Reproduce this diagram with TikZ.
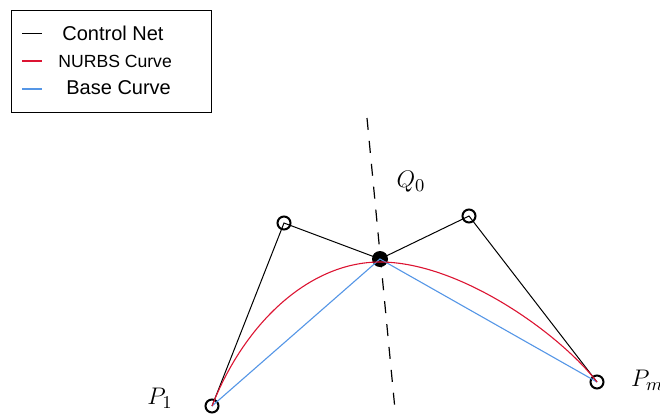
\documentclass[tikz,border=0pt]{standalone}
\usepackage{fontspec}
\newfontfamily\legendfont{Liberation Sans}
\usetikzlibrary{positioning}

\definecolor{nurbsred}{RGB}{220,20,50}
\definecolor{baseblue}{RGB}{85,150,230}

\begin{document}
\begin{tikzpicture}[
    x=0.5pt, y=-0.5pt,
    ctrlpt/.style={circle, draw, line width=1pt, minimum size=6.5pt, inner sep=0pt},
    midpt/.style={circle, fill, minimum size=8pt, inner sep=0pt},
    net/.style={line width=0.5pt},
    nurbs/.style={nurbsred, line width=0.55pt},
    base/.style={baseblue, line width=0.55pt},
    axis/.style={line width=0.6pt, dash pattern=on 6pt off 5.5pt},
    lbl/.style={font=\fontsize{13}{15}\selectfont},
    legtext/.style={font=\legendfont\fontsize{10}{12}\selectfont, inner sep=0pt}
  ]
    \useasboundingbox (0,0) rectangle (660,414);

    % legend
    \node[draw, line width=0.5pt, minimum width=100pt, minimum height=51pt, inner sep=0pt] (legend) at (111,61) {};
    \coordinate (k1a) at (22,33);  \coordinate (k1b) at (42,33);
    \coordinate (k2a) at (22,61);  \coordinate (k2b) at (42,61);
    \coordinate (k3a) at (22,89);  \coordinate (k3b) at (42,89);
    \draw[net] (k1a) -- (k1b);
    \draw[nurbs] (k2a) -- (k2b);
    \draw[base] (k3a) -- (k3b);
    \node[legtext, anchor=west] (t1) at (62,33) {Control Net};
    \node[legtext, anchor=west, font=\legendfont\fontsize{8.8}{10}\selectfont] (t2) at (58,61) {NURBS Curve};
    \node[legtext, anchor=west] (t3) at (66,88) {Base Curve};

    % axis through Q0
    \coordinate (axtop) at (367,118);
    \coordinate (axbot) at (396,420);
    \draw[axis] (axtop) -- (axbot);

    % control points
    \node[ctrlpt] (p1) at (212,406) {};
    \node[ctrlpt] (c1) at (284,223) {};
    \node[ctrlpt] (c2) at (469,216) {};
    \node[ctrlpt] (pm) at (597,382) {};
    \node[midpt] (q0) at (380,259) {};
    \coordinate (apex) at (380,262);

    % control net
    \draw[net] (p1.center) -- (c1.center) -- (q0.center) -- (c2.center) -- (pm.center);

    % base curve
    \draw[base] (p1.center) -- (q0.center) -- (pm.center);

    % nurbs curve
    \draw[nurbs] (p1.center) .. controls (245,322) and (310,262) .. (apex)
      .. controls (460,262) and (560,334) .. (pm.center);

    % labels
    \node[lbl] (lq) at (411,182) {$Q_0$};
    \node[lbl] (lp1) at (160,398) {$P_1$};
    \node[lbl, anchor=west] (lpm) at (624,380) {$P_m$};
  \end{tikzpicture}
\end{document}
